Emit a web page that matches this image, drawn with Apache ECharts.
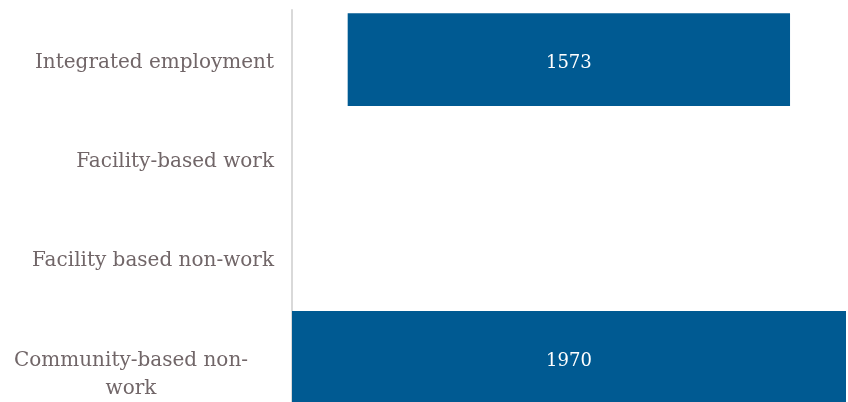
<!DOCTYPE html>
<html>
<head>
<meta charset="utf-8">
<script src="https://cdn.jsdelivr.net/npm/echarts@6/dist/echarts.min.js"></script>
<style>
  html, body { margin: 0; padding: 0; background: #fff; }
  #chart { width: 848px; height: 402px; }
</style>
</head>
<body>
<div id="chart"></div>
<script>
var categories = ['Integrated employment', 'Facility-based work', 'Facility based non-work', 'Community-based non-work'];
// invisible offset so the bar sits centred, then the visible count
var offsetValues = [198, 0, 0, 0];
var countValues = [1573, '-', '-', 1970];

var chart = echarts.init(document.getElementById('chart'));

var option = {
    animation: false,
    grid: {
        left: 292,
        right: 2,
        top: 10,
        height: 397,
        containLabel: false,
        outerBoundsMode: 'none'
    },
    xAxis: {
        type: 'value',
        min: 0,
        max: 1970,
        show: false
    },
    yAxis: {
        type: 'category',
        inverse: true,
        data: categories,
        axisTick: { show: false },
        axisLine: {
            show: true,
            lineStyle: { color: '#d9d9d9', width: 2 }
        },
        axisLabel: {
            margin: 18,
            padding: [6, 0, 0, 0],
            color: '#716668',
            fontFamily: 'DejaVu Serif',
            fontSize: 20,
            formatter: function (value) {
                if (value === 'Community-based non-work') {
                    return '{e| }\n{c|Community-based non-}\n{c|work}';
                }
                return value;
            },
            rich: {
                e: { fontSize: 20, lineHeight: 28 },
                c: {
                    width: 286,
                    align: 'center',
                    color: '#716668',
                    fontFamily: 'DejaVu Serif',
                    fontSize: 20,
                    lineHeight: 28
                }
            }
        }
    },
    series: [
        {
            type: 'bar',
            stack: 'total',
            data: offsetValues,
            barCategoryGap: '6.4%',
            itemStyle: { color: 'transparent' },
            silent: true
        },
        {
            type: 'bar',
            stack: 'total',
            data: countValues,
            barCategoryGap: '6.4%',
            itemStyle: { color: '#005a92' },
            label: {
                show: true,
                position: 'inside',
                offset: [0, 4],
                color: '#ffffff',
                fontFamily: 'DejaVu Serif',
                fontSize: 18
            }
        }
    ]
};

chart.setOption(option);
window.addEventListener('resize', function () {
    chart.resize();
});
</script>
</body>
</html>
